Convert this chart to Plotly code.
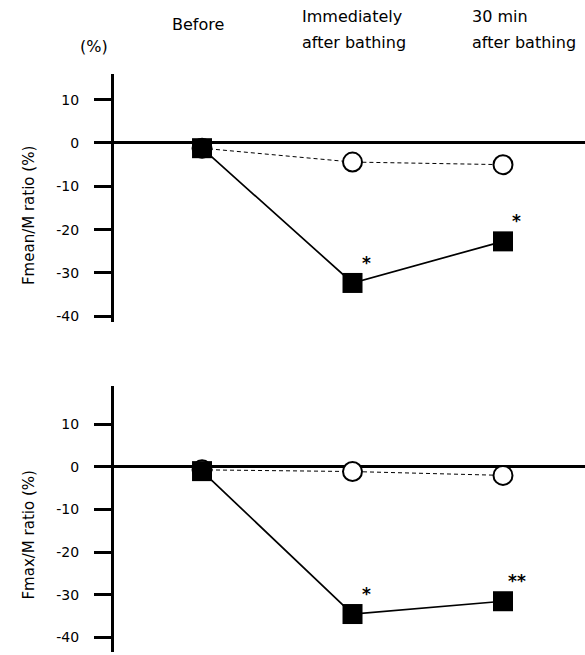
import plotly.graph_objects as go

categories = ["Before", "Immediately after bathing", "30 min after bathing"]
header_line1 = ["Before", "Immediately", "30 min"]
header_line2 = ["", "after bathing", "after bathing"]
unit_label = "(%)"
ytitles = ["Fmean/M ratio (%)", "Fmax/M ratio (%)"]

fmean_open = [-1.2, -4.4, -5.0]
fmean_filled = [-1.2, -32.3, -22.7]
fmean_sig = ["", "*", "*"]

fmax_open = [-0.7, -1.1, -2.0]
fmax_filled = [-1.0, -34.5, -31.5]
fmax_sig = ["", "*", "**"]

tick_vals = [10, 0, -10, -20, -30, -40]
tick_text = ["10", "0", "-10", "-20", "-30", "-40"]

FONT = "DejaVu Sans"
W, H = 585, 655
L = 114

fig = go.Figure()

def add_panel(open_vals, filled_vals, sig, xa, ya):
    fig.add_trace(go.Scatter(
        x=categories, y=open_vals, mode="lines+markers", xaxis=xa, yaxis=ya,
        line=dict(color="black", width=1, dash="4px,3px"),
        marker=dict(symbol="circle", size=19, color="white",
                    line=dict(color="black", width=2)),
        showlegend=False, cliponaxis=False, hoverinfo="skip"))
    fig.add_trace(go.Scatter(
        x=categories, y=filled_vals, mode="lines+markers", xaxis=xa, yaxis=ya,
        line=dict(color="black", width=1.7),
        marker=dict(symbol="square", size=20, color="black",
                    line=dict(color="black", width=0)),
        showlegend=False, cliponaxis=False, hoverinfo="skip"))
    for c, v, s in zip(categories, filled_vals, sig):
        if s:
            fig.add_annotation(x=c, y=v, xref=xa, yref=ya, text="<b>" + s + "</b>",
                               showarrow=False, xshift=14, yshift=20,
                               xanchor="center", yanchor="middle",
                               font=dict(family=FONT, size=17, color="black"))

add_panel(fmean_open, fmean_filled, fmean_sig, "x", "y")
add_panel(fmax_open, fmax_filled, fmax_sig, "x2", "y2")

xcommon = dict(type="category", range=[-0.585, 2.545], showline=False,
               showgrid=False, zeroline=False, showticklabels=False, ticks="")
ycommon = dict(tickvals=tick_vals, ticktext=tick_text, showline=True,
               linecolor="black", linewidth=3, ticks="outside", ticklen=17,
               tickwidth=3, tickcolor="black", showgrid=False,
               zeroline=True, zerolinecolor="black", zerolinewidth=3,
               ticklabelstandoff=12,
               tickfont=dict(family=FONT, size=14, color="black"))

fig.update_layout(
    width=W, height=H,
    margin=dict(l=L, r=0, t=0, b=0),
    plot_bgcolor="white", paper_bgcolor="white",
    xaxis=dict(**xcommon, domain=[0, 1], anchor="y"),
    xaxis2=dict(**xcommon, domain=[0, 1], anchor="y2"),
    yaxis=dict(**ycommon, range=[-41.2, 16], domain=[1 - 323 / H, 1 - 74 / H], anchor="x"),
    yaxis2=dict(**ycommon, range=[-43.4, 18.9], domain=[0, 1 - 388 / H], anchor="x2"),
)

pw = W - L
def px(xpix):
    return (xpix - L) / pw
def py(ypix):
    return 1 - ypix / H

hfont = dict(family=FONT, size=16, color="black")
# header labels
fig.add_annotation(x=px(198), y=py(25), xref="paper", yref="paper", text=header_line1[0],
                   showarrow=False, xanchor="center", yanchor="middle", font=hfont)
for xl, t1, t2 in zip([300, 470], header_line1[1:], header_line2[1:]):
    fig.add_annotation(x=px(xl), y=py(17), xref="paper", yref="paper", text=t1,
                       showarrow=False, xanchor="left", yanchor="middle", font=hfont)
    fig.add_annotation(x=px(xl), y=py(43), xref="paper", yref="paper", text=t2,
                       showarrow=False, xanchor="left", yanchor="middle", font=hfont)
fig.add_annotation(x=px(94), y=py(47), xref="paper", yref="paper", text=unit_label,
                   showarrow=False, xanchor="center", yanchor="middle", font=hfont)

# y axis titles
for yc, t in zip([217, 538], ytitles):
    fig.add_annotation(x=px(29), y=py(yc), xref="paper", yref="paper", text=t,
                       showarrow=False, textangle=-90, xanchor="center", yanchor="middle",
                       font=dict(family=FONT, size=15, color="black"))

fig.write_html("out.html", config={"displayModeBar": False},
               post_script="document.body.style.margin='0';document.body.style.overflow='hidden';")
